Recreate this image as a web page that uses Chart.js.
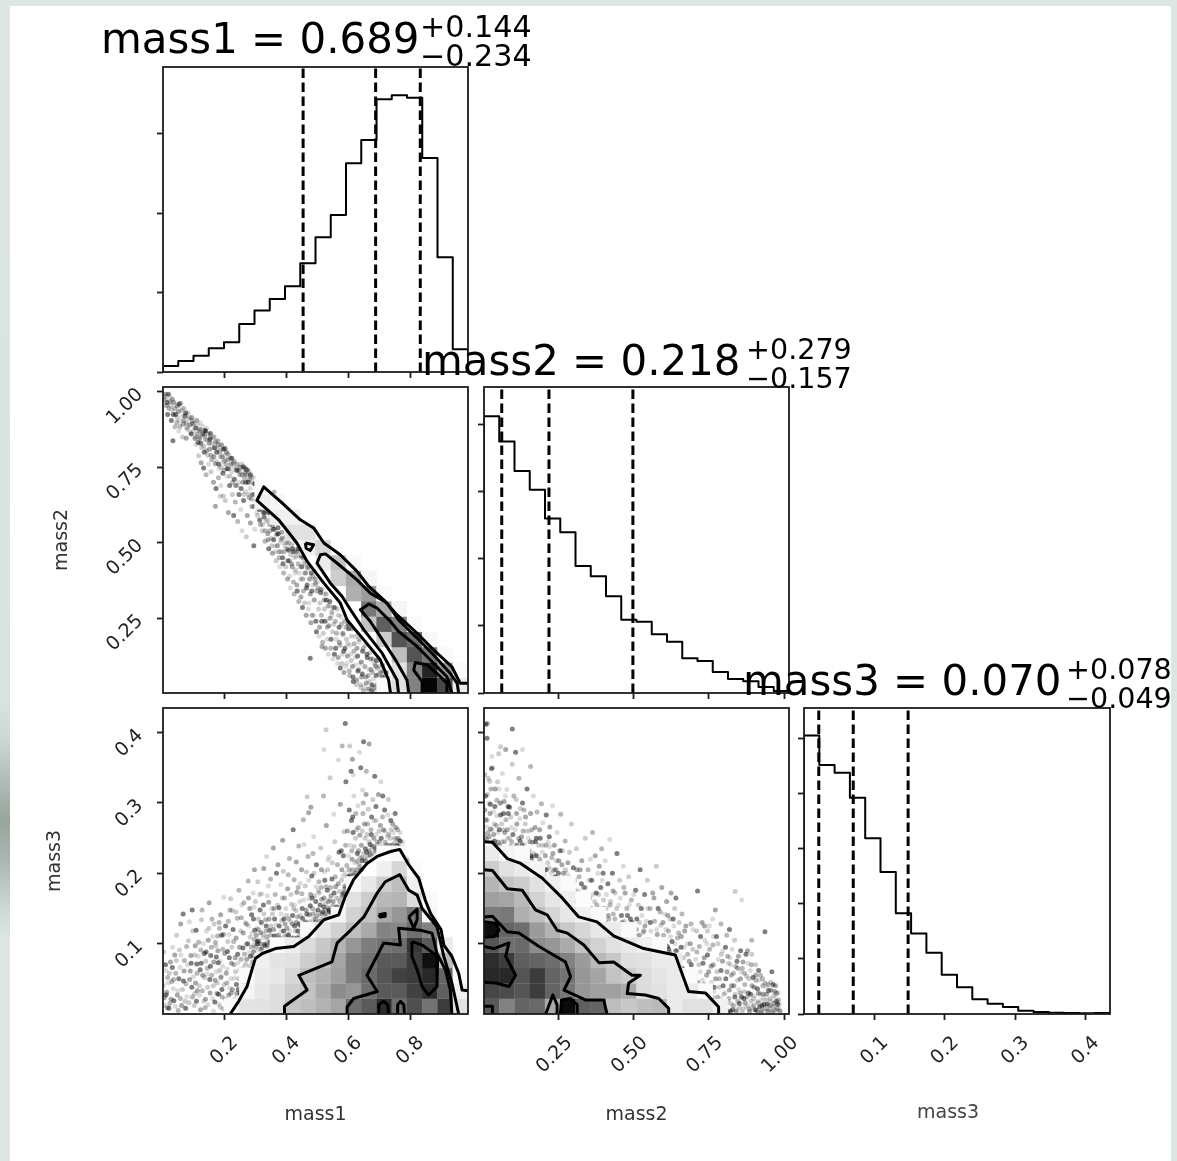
<!DOCTYPE html>
<html><head><meta charset="utf-8">
<script src="https://cdn.jsdelivr.net/npm/chart.js@4"></script>
<style>
html,body{margin:0;padding:0;width:1177px;height:1161px;overflow:hidden;background:#dde6e1;}
#strip{position:absolute;left:0;top:0;width:10px;height:1161px;background:linear-gradient(to bottom,#dde6e1 0,#d8e3de 700px,#cfdad4 735px,#a9b8b0 790px,#95a69d 820px,#a8b7af 860px,#cddad3 910px,#dde6e1 940px,#dde6e1 100%);}
#page{position:absolute;left:10px;top:6px;width:1161px;height:1155px;background:#fff;overflow:hidden;}
#inner{position:absolute;left:-10px;top:-6px;width:1177px;height:1161px;filter:blur(0.6px);}
canvas{position:absolute;left:0;top:0;}
.t{position:absolute;font-family:"DejaVu Sans";color:#000;white-space:pre;line-height:normal;}
.m{font-size:41.9px;}.s{font-size:30.2px;}.s2{font-size:28.6px;}
</style></head><body>
<div id="strip"></div>
<div id="page"><div id="inner">
<canvas id="c1" width="1177" height="1161"></canvas>
<canvas id="c2" width="1177" height="1161"></canvas>
<canvas id="c3" width="1177" height="1161"></canvas>
<canvas id="c4" width="1177" height="1161"></canvas>
<canvas id="c5" width="1177" height="1161"></canvas>
<canvas id="c6" width="1177" height="1161"></canvas>
<span class="t m" style="left:101px;top:14.1px">mass1 = 0.689</span>
<span class="t s" style="left:420px;top:9px">+0.144</span>
<span class="t s" style="left:420px;top:38px">−0.234</span>
<span class="t m" style="left:422px;top:336.1px">mass2 = 0.218</span>
<span class="t s2" style="left:746px;top:331.5px">+0.279</span>
<span class="t s2" style="left:746px;top:360.5px">−0.157</span>
<span class="t m" style="left:743px;top:656.1px">mass3 = 0.070</span>
<span class="t s2" style="left:1066px;top:651.5px">+0.078</span>
<span class="t s2" style="left:1066px;top:680.5px">−0.049</span>
<span class="t" style="left:917px;top:1100px;font-size:19px;color:#444">mass3</span>
</div></div>
<script>
// ---------- axis ranges and ticks ----------
const rangeM1=[0.003,0.987], rangeM2=[0.002,1.016], rangeM3=[0,0.435];
const ticksM1=[0.2,0.4,0.6,0.8], labelsM1=['0.2','0.4','0.6','0.8'];
const ticksM2=[0.25,0.5,0.75,1.0], labelsM2=['0.25','0.50','0.75','1.00'];
const ticksM3=[0.1,0.2,0.3,0.4], labelsM3=['0.1','0.2','0.3','0.4'];
const histTicks1=[0,500,1000,1500], histTicks2=[0,500,1000,1500,2000], histTicks3=[0,500,1000,1500,2000,2500];
const histMax1=1922, histMax2=2283, histMax3=2776;
// ---------- histograms ----------
const hist1=[38,69,103,149,187,303,387,460,540,685,849,989,1315,1462,1718,1744,1729,1349,723,143];
const hist2=[2065,1876,1657,1517,1301,1199,948,871,721,547,532,438,383,259,239,157,104,87,45,15];
const hist3=[2527,2258,2188,1961,1594,1288,915,730,555,355,242,133,94,64,30,18,12,9,6,9];
const quant1=[0.455,0.689,0.833], quant2=[0.061,0.218,0.497], quant3=[0.021,0.070,0.148];
// ---------- 2D density (rows from bottom, 20 columns) ----------
const densA=[
[0,0,0,0,5,27,29,33,57,65,77,90,145,165,210,145,175,140,195,30],
[0,0,0,0,0,10,23,33,50,60,85,115,105,145,165,165,190,210,160,15],
[0,0,0,0,0,5,20,23,40,65,77,95,130,150,170,190,195,215,155,5],
[0,0,0,0,0,0,15,27,30,50,65,90,130,140,165,165,195,240,70,0],
[0,0,0,0,0,0,0,5,17,35,55,75,105,130,140,145,200,165,20,0],
[0,0,0,0,0,0,0,0,0,5,25,45,65,85,125,120,145,125,0,0],
[0,0,0,0,0,0,0,0,0,0,0,10,45,60,85,105,135,10,0,0],
[0,0,0,0,0,0,0,0,0,0,0,0,30,50,70,75,35,5,0,0],
[0,0,0,0,0,0,0,0,0,0,0,0,7,23,50,65,15,0,0,0],
[0,0,0,0,0,0,0,0,0,0,0,0,0,0,15,40,5,0,0,0],
[0,0,0,0,0,0,0,0,0,0,0,0,0,0,3,5,0,0,0,0]];
const densB=[
[165,125,155,150,85,245,160,155,65,55,65,70,20,30,30,15,0,0,0,0],
[185,180,170,195,155,135,105,95,95,85,35,30,20,20,5,0,0,0,0,0],
[215,215,170,195,155,140,105,90,60,50,35,25,20,5,0,0,0,0,0,0],
[210,195,160,155,145,125,100,70,55,33,30,20,20,0,0,0,0,0,0,0],
[170,145,150,115,105,85,60,45,30,23,15,5,0,0,0,0,0,0,0,0],
[240,155,145,100,75,55,40,23,20,5,0,0,0,0,0,0,0,0,0,0],
[130,135,80,65,40,23,15,5,0,0,0,0,0,0,0,0,0,0,0,0],
[95,90,70,45,25,17,3,0,0,0,0,0,0,0,0,0,0,0,0,0],
[75,60,50,30,15,5,0,0,0,0,0,0,0,0,0,0,0,0,0,0],
[50,30,20,10,0,0,0,0,0,0,0,0,0,0,0,0,0,0,0,0],
[20,10,5,0,0,0,0,0,0,0,0,0,0,0,0,0,0,0,0,0]];
const densC=[
[0,0,0,0,0,0,0,0,0,0,0,0,0,0,5,30,125,250,185,20],
[0,0,0,0,0,0,0,0,0,0,0,0,0,0,0,30,125,220,105,5],
[0,0,0,0,0,0,0,0,0,0,0,0,0,0,0,65,170,135,5,0],
[0,0,0,0,0,0,0,0,0,0,0,0,0,0,50,170,145,8,0,0],
[0,0,0,0,0,0,0,0,0,0,0,0,0,60,160,125,5,0,0,0],
[0,0,0,0,0,0,0,0,0,0,0,0,0,135,85,10,0,0,0,0],
[0,0,0,0,0,0,0,0,0,0,0,0,80,100,5,0,0,0,0,0],
[0,0,0,0,0,0,0,0,0,0,0,50,85,10,0,0,0,0,0,0],
[0,0,0,0,0,0,0,0,0,0,20,60,5,0,0,0,0,0,0,0],
[0,0,0,0,0,0,0,0,0,15,40,0,0,0,0,0,0,0,0,0],
[0,0,0,0,0,0,0,0,30,30,0,0,0,0,0,0,0,0,0,0],
[0,0,0,0,0,0,0,15,15,0,0,0,0,0,0,0,0,0,0,0],
[0,0,0,0,0,0,15,10,0,0,0,0,0,0,0,0,0,0,0,0],
[0,0,0,0,0,0,3,0,0,0,0,0,0,0,0,0,0,0,0,0]];
// ---------- contours, flat x,y lists in thousandths ----------
const contA=[
[220,0,247,18,274,39,290,63,301,79,323,86,366,93,425,96,473,110,522,134,570,141,591,167,618,191,661,214,694,224,737,231,767,234,796,212,828,193,849,162,866,143,900,120,909,98,935,82,957,58,968,34,989,33],
[395,0,395,11,468,34,441,55,548,74,565,101,608,119,651,138,694,172,720,188,767,198,796,176,823,169,839,150,887,124,909,82,935,44,957,0],
[597,0,597,10,618,22,694,32,661,55,715,101,769,98,763,122,833,119,871,115,887,86,914,63,930,34,935,0],
[806,103,839,98,889,82,887,39,860,27,839,39,823,63,806,82,806,103],
[796,138,823,149,823,134,812,122,796,138],
[699,141,720,143,720,139,704,138,699,141],
[699,0,699,13,715,18,728,13,731,0],
[760,0,760,13,769,18,780,13,782,0]];
const contB=[
[2,245,30,244,79,221,124,214,196,193,262,165,317,138,378,131,433,111,533,93,638,84,682,32,738,30,782,10,782,0],
[2,205,30,204,79,178,129,176,173,148,212,141,245,119,279,115,334,98,384,73,433,74,494,55,522,55,483,44,478,29,538,27,583,22,616,8,616,0],
[2,138,30,139,79,117,118,115,185,96,273,74,290,53,268,34,339,20,400,20,411,0],
[2,96,35,93,85,101,74,82,107,55,85,39,41,44,2,45],
[2,131,41,129,52,119,35,110,2,109],
[2,11,30,11,30,0],
[207,0,231,27,245,13,245,0],
[256,0,260,20,290,22,312,13,312,0]];
const contC=[
[737,1,731,45,704,112,651,178,597,244,575,300,522,366,468,438,435,499,376,576,306,640,328,685,387,632,446,576,489,549,522,499,575,460,629,405,667,355,715,311,753,266,823,200,876,145,935,89,962,34,989,34],
[763,1,758,45,710,134,651,211,608,278,581,322,543,366,500,432,511,460,527,463,565,432,629,377,672,333,726,300,763,244,823,184,876,128,930,67,952,34,957,1],
[796,1,790,45,753,112,704,189,672,239,640,278,667,297,694,283,737,239,763,206,823,156,887,89,919,56,935,1],
[839,1,839,40,812,78,817,103,855,95,898,56,919,34,919,1],
[462,499,489,493,478,474,465,482,462,499]];
// ---------- samples, flat x,y lists in thousandths ----------
const pointsA=[8,12,15,31,22,8,31,46,12,62,5,88,27,74,38,19,44,58,51,33,56,91,63,12,69,47,72,76,80,25,85,104,91,61,96,38,18,52,34,95,47,112,60,128,68,142,79,96,88,131,99,118,41,84,13,27,25,15,58,66,74,18,93,83,97,148,52,5,36,36,
104,12,108,44,112,71,118,102,121,27,127,134,131,55,136,86,139,9,143,118,147,38,152,158,156,68,159,95,163,22,168,128,171,48,175,81,179,111,183,14,186,62,189,141,193,35,196,92,199,166,106,84,114,33,123,63,129,148,134,18,141,75,149,105,154,49,161,135,166,4,173,97,177,29,181,73,185,122,191,54,197,7,198,113,110,119,125,91,145,57,
204,21,207,58,211,89,214,132,218,37,221,164,224,72,228,12,231,103,234,51,238,145,241,29,244,85,248,176,251,63,254,118,258,42,261,94,264,158,267,31,269,71,272,128,275,52,278,189,281,87,284,109,287,61,289,141,291,74,294,172,296,98,298,205,299,119,209,44,216,113,226,147,236,80,246,35,256,137,263,66,271,99,279,165,286,47,293,83,297,152,213,7,223,30,233,9,
303,96,306,122,309,188,312,104,316,148,319,92,322,171,325,113,328,207,331,99,334,134,337,224,341,105,344,159,347,119,350,192,353,101,356,142,359,236,362,111,365,170,368,127,371,99,374,212,377,151,380,108,383,184,386,133,389,247,392,118,395,165,398,104,311,135,318,116,327,155,335,118,343,182,352,125,361,150,369,200,376,112,384,142,391,203,397,128,307,103,339,98,358,103,
402,140,405,178,408,112,411,221,414,104,417,156,420,128,423,262,426,191,429,106,432,147,435,173,438,118,441,239,444,160,447,112,450,205,453,136,456,276,459,122,462,182,465,148,468,121,471,224,474,164,477,131,480,294,483,196,486,142,489,252,492,168,495,135,498,212,407,198,415,131,424,150,433,216,442,128,451,171,458,241,466,202,475,141,484,165,491,127,497,181,404,113,419,108,428,125,437,138,446,186,455,117,463,131,478,154,487,228,494,146,468,309,473,286,
503,148,506,188,509,139,512,236,515,163,518,145,521,310,524,202,527,157,530,268,533,176,536,151,539,223,542,336,545,168,548,192,551,154,554,284,557,245,560,181,563,152,566,212,569,361,572,174,575,298,578,232,581,166,584,196,587,259,590,182,593,330,596,211,599,189,507,172,514,205,522,152,529,181,535,219,541,162,547,144,555,172,561,148,567,165,574,153,580,205,586,172,592,240,597,176,511,143,526,142,538,148,552,143,
602,225,605,381,608,198,611,275,614,205,617,340,620,238,623,200,591,413,629,217,632,296,635,212,638,254,641,350,644,222,647,318,650,228,653,270,656,235,659,345,662,224,665,291,668,384,671,241,674,262,677,228,680,305,683,250,686,338,689,232,692,275,695,240,698,312,604,290,612,232,619,310,627,262,634,232,642,205,649,300,654,218,661,255,669,232,676,280,684,238,691,255,697,236,606,195,616,258,625,285,637,372,646,260,658,312,650,387,581,381,522,376,529,404,614,362,610,345,
702,245,706,330,710,238,714,262,718,290,722,234,726,252,730,305,734,240,738,275,742,236,746,258,750,243,754,265,758,240,762,250,766,238,770,246,775,228,779,236,783,216,788,222,793,218,704,268,712,310,720,244,728,283,736,250,744,270,752,285,760,262,768,258];
const pointsA2=[3,41,7,23,11,70,17,9,19,44,24,58,29,21,33,66,37,49,43,11,46,76,49,27,54,50,59,22,61,84,66,35,71,61,76,8,77,43,82,70,87,16,89,49,94,72,98,24,101,53,105,29,107,97,111,18,113,58,117,82,120,40,124,6,126,72,130,33,133,100,137,52,140,21,142,88,146,65,148,13,151,122,155,30,157,83,160,55,162,110,165,40,167,74,170,17,172,102,174,60,178,44,180,90,182,28,184,130,187,75,188,10,190,52,192,112,194,24,195,68,200,42,202,86,205,125,208,12,210,64,212,103,215,27,217,80,219,148,222,50,225,95,227,35,229,120,232,70,235,22,237,60,239,108,240,42,243,136,245,73,247,50,250,95,252,30,255,78,257,155,259,55,262,115,265,44,266,85,268,130,270,60,273,78,276,100,277,45,280,125,282,68,283,150,285,82,288,95,290,115,292,60,295,88,295,135,298,106,300,90,301,160,304,112,308,100,310,120,313,92,315,170,317,100,320,130,323,94,326,108,329,142,332,97,336,125,338,110,340,168,342,96,345,135,348,102,351,112,354,150,357,96,360,120,363,135,367,98,370,112,373,155,375,101,378,125,381,100,385,118,388,165,390,102,393,135,396,110,399,150,400,102,403,122,406,100,409,135,412,118,416,170,418,102,421,140,425,108,427,155,430,118,433,130,436,108,439,180,443,112,445,140,448,125,452,150,454,110,457,162,460,130,464,115,467,142,470,120,473,190,476,128,479,170,482,122,485,150,488,135,490,200,493,130,496,160,499,140,501,128,504,175,508,132,510,155,513,180,516,142,519,135,523,165,525,190,528,148,531,140,534,205,537,160,540,145,543,180,546,150,549,215,552,160,556,148,559,195,562,165,565,145,568,185,571,230,573,160,576,148,579,190,582,170,585,225,588,178,591,200,594,180,598,260,600,195,603,205,607,240,609,188,613,220,615,280,618,198,621,215,624,250,628,205,630,228,633,265,636,222,639,210,643,240,645,218,648,285,652,222,655,250,657,218,660,230,663,270,666,225,668,245,672,226,675,255,678,238,681,228,685,275,688,235,690,295,694,245,696,228,700,260,703,232,707,250,711,280,715,235,719,260,723,240,727,232,731,255,735,236,739,262,743,240,747,236,751,250,755,236,759,248,763,238,767,246,772,232,776,244,781,226,785,215,790,205,795,210,800,200];
const pointsB=[6,251,9,276,12,392,15,258,18,300,21,331,24,263,27,349,30,244,33,288,36,270,39,320,42,236,45,304,48,258,51,370,54,240,57,283,60,229,63,342,66,262,69,302,72,232,75,276,78,319,81,250,84,226,87,294,90,238,93,265,96,355,99,222,8,412,4,340,28,366,14,312,22,285,37,246,43,268,52,320,62,245,71,258,83,285,94,245,11,266,58,300,13,413,96,405,157,352,130,376,57,380,74,376,107,372,
103,218,106,262,109,305,112,240,115,220,118,335,121,278,124,225,127,252,130,300,133,218,136,242,139,270,142,210,145,320,148,232,151,260,154,206,157,285,160,222,163,244,166,310,169,205,172,265,175,225,178,287,181,212,184,240,187,262,190,204,193,299,196,230,199,200,110,285,122,246,135,290,144,260,153,232,164,215,176,250,188,220,198,272,
203,195,206,225,209,283,212,186,215,245,218,208,221,266,224,182,227,222,230,296,233,178,236,240,239,195,242,205,245,258,248,172,251,218,254,188,257,284,260,170,263,232,266,200,269,158,272,246,275,180,278,163,281,215,284,152,287,192,290,170,293,270,296,146,299,208,210,205,220,238,232,204,244,178,255,232,265,175,277,200,286,230,294,165,298,152,
303,143,306,176,309,235,312,150,315,141,318,195,321,138,324,162,327,218,330,142,333,180,336,136,339,250,342,155,345,138,348,205,351,135,354,165,357,140,360,190,363,258,366,148,369,136,372,225,375,172,378,138,381,200,384,150,387,132,390,180,393,235,396,140,399,162,311,205,326,185,341,142,356,220,370,160,385,210,398,200,
402,128,405,218,408,150,411,122,414,185,417,135,420,248,423,160,426,118,429,200,432,142,435,115,438,172,441,125,444,228,447,112,450,155,453,190,456,120,459,140,462,108,465,210,468,132,471,172,474,106,477,150,480,118,483,195,486,104,489,135,492,162,495,102,498,125,
503,100,506,176,509,120,512,98,515,155,518,112,521,205,524,96,527,140,530,94,533,118,536,170,539,92,542,132,545,190,548,106,551,91,554,150,557,118,560,90,563,172,566,101,569,132,572,88,575,210,578,113,581,150,584,87,587,100,590,126,593,180,596,86,599,112,
603,142,606,85,609,160,612,96,615,118,618,84,621,135,624,172,627,103,630,84,633,125,636,150,639,90,642,78,645,108,648,66,651,130,654,55,657,95,660,142,663,46,666,80,669,118,672,40,675,62,678,100,681,35,684,75,687,52,690,128,693,36,696,92,699,60,640,165,
703,34,706,78,709,118,712,45,715,32,718,96,721,60,724,34,727,130,730,72,733,42,736,105,739,30,742,55,745,84,748,26,751,125,754,40,757,68,760,20,763,98,766,32,769,14,772,50,775,110,778,24,781,78,784,38,787,6,790,62,793,15,796,90,799,28,
803,8,806,50,809,112,812,18,815,72,818,34,821,4,824,55,827,92,830,12,833,40,836,24,839,68,842,6,845,48,848,82,851,15,854,30,857,60,860,3,863,74,866,22,869,42,872,10,875,54,878,90,881,30,884,7,887,62,890,18,893,40,896,52,899,12,902,26,905,70,908,5,911,36,914,16,917,48,920,28,923,3,926,12,929,40,932,22,935,8,941,28,944,14,947,42,950,6,953,22,956,34,959,60,962,11,965,26,968,5,971,40,974,18,977,8,980,30,983,14,986,4,936,117,892,105,859,162,837,174,771,148,712,175,752,92,765,110,780,100,795,75,805,95,812,82,822,70,835,105,845,65,855,90,868,58,880,72,892,85,905,55,915,62,928,50,942,38,955,45,968,32,818,120,790,128,762,135,745,118,735,125];
const pointsB2=[3,255,5,290,7,310,10,248,13,275,16,335,19,252,23,298,25,320,29,262,31,350,34,255,38,295,40,240,44,282,47,330,49,244,53,262,55,300,59,236,61,270,64,230,67,285,70,245,73,310,76,228,79,262,82,295,85,232,88,250,91,280,95,225,98,255,101,310,105,228,108,240,111,270,114,218,117,250,120,226,123,292,126,215,129,240,132,260,134,210,137,225,140,280,143,235,146,212,149,250,152,205,155,245,158,225,161,262,164,200,167,228,170,212,173,245,177,200,180,225,183,195,186,215,189,250,192,192,195,210,197,240,201,190,205,205,208,240,211,182,214,215,217,190,219,252,222,180,225,200,229,175,231,228,234,185,237,205,240,172,243,218,246,180,249,200,252,168,256,190,258,165,261,212,264,165,267,185,270,170,273,205,276,155,279,175,283,150,285,195,288,165,291,148,295,180,297,143,300,165,304,190,307,143,310,160,313,142,316,175,319,140,322,205,325,145,328,135,332,160,335,142,338,180,343,135,346,160,349,138,352,190,355,135,358,150,361,132,364,170,367,135,371,145,374,128,377,155,380,125,383,170,386,120,389,145,392,118,395,190,397,125,400,150,403,115,406,130,409,170,412,112,415,140,418,110,421,155,424,128,427,108,431,175,434,110,437,135,440,104,443,150,446,105,449,125,452,100,455,165,458,108,461,130,464,100,467,180,470,110,473,98,476,125,479,140,482,100,485,155,488,98,491,120,494,130,497,98,500,170,504,112,507,95,510,135,513,100,516,90,519,130,522,100,525,150,528,90,531,115,534,88,537,125,540,95,543,85,546,150,549,100,552,88,555,130,558,85,561,105,564,88,567,165,570,95,573,85,576,120,579,88,582,105,585,85,588,145,591,92,594,84,597,130,600,85,604,100,607,120,610,85,613,140,616,92,619,88,622,110,625,85,628,80,631,135,634,70,637,100,641,60,643,90,646,50,649,115,652,75,655,40,658,110,661,65,664,36,667,95,670,50,673,125,676,34,679,85,682,60,685,30,688,100,691,70,694,40,697,120,700,32,704,55,707,38,710,88,713,28,716,70,719,34,722,110,725,20,728,48,731,28,734,80,737,16,740,40,743,100,746,12,749,60,752,30,755,8,758,45,761,24,764,70,767,38,770,6,773,20,776,60,779,12,782,4,785,50,788,22,791,85,794,5,797,40,800,14,
804,30,807,8,810,60,813,3,816,22,819,80,822,15,825,40,828,6,831,58,834,12,837,28,840,4,843,75,846,18,849,35,852,9,855,50,858,24,861,65,864,7,867,32,870,16,873,85,876,24,879,12,882,50,885,4,888,28,891,70,894,10,897,22,900,38,903,6,906,48,909,18,912,3,915,30,918,10,921,55,924,20,927,5,930,28,933,14,936,44,939,7,942,20,945,4,948,33,951,12,954,8,957,18,960,3,963,42,966,15,969,25,972,6,975,30,978,14,981,20,984,6];
const pointsC=[8,985,14,955,20,992,26,968,32,940,12,975,38,965,44,925,50,952,56,905,62,938,68,893,74,920,80,880,86,910,92,865,98,895,30,905,42,884,54,870,66,850,78,846,18,925,60,962,72,945,84,930,96,915,35,838,48,898,
104,880,108,850,112,905,116,832,120,870,124,897,128,815,132,860,136,800,140,842,144,880,148,790,152,830,156,862,160,775,164,815,168,850,172,762,176,800,180,838,184,745,188,785,192,825,196,730,199,770,110,825,118,788,126,765,134,748,142,725,150,760,158,735,166,700,174,680,182,715,190,690,198,655,122,845,138,872,154,840,170,828,188,654,172,621,
203,812,206,760,209,720,212,795,215,745,218,690,221,780,224,735,227,660,230,765,233,710,236,635,239,750,242,690,245,740,248,660,251,725,254,610,257,760,260,700,263,640,266,715,269,670,272,742,275,590,278,700,281,650,284,680,287,720,290,620,293,660,296,695,299,545,204,640,214,600,231,590,244,570,258,540,272,520,285,565,296,490,274,742,274,742,280,735,268,748,262,752,
302,660,305,625,308,590,311,680,314,610,317,560,320,630,323,540,326,600,329,585,332,505,335,570,338,600,341,530,344,480,347,560,350,590,353,515,356,465,359,545,362,575,365,490,368,440,371,530,374,550,377,470,380,420,383,510,386,535,389,450,392,400,395,490,398,520,310,700,345,650,362,668,340,640,
402,500,405,380,408,475,411,440,414,350,417,490,420,420,423,470,426,330,429,400,432,455,435,360,438,480,441,305,444,420,447,380,450,455,453,285,456,340,459,400,462,430,465,260,468,360,471,415,474,300,477,380,480,235,483,340,486,390,489,260,492,310,495,365,498,205,410,520,425,500,440,470,455,450,478,117,
503,350,506,190,509,300,512,345,515,240,518,170,521,330,524,280,527,150,530,310,533,220,536,130,539,290,542,250,545,180,548,270,551,115,554,230,557,285,560,150,563,200,566,100,569,260,572,170,575,85,578,230,581,130,584,195,587,70,590,150,593,220,596,100,599,165,516,156,
602,215,605,60,608,130,611,190,614,90,617,40,620,165,623,120,626,30,629,150,632,75,635,180,638,100,641,20,644,55,647,140,650,10,653,90,656,160,659,35,662,120,665,60,668,15,671,135,674,80,677,28,680,115,683,50,686,8,689,92,692,110,695,30,698,65,
703,90,706,20,709,55,712,75,715,10,718,40,721,60,724,25,727,8,730,35];
const pointsC2=[5,975,10,992,16,965,22,945,25,985,28,955,33,975,36,925,40,945,46,955,48,915,52,935,55,960,58,885,64,920,67,945,70,905,76,930,79,895,83,875,88,915,90,890,94,860,97,905,101,870,103,895,106,845,109,880,113,860,115,890,119,850,123,875,125,830,129,860,131,885,135,820,137,855,141,870,143,805,146,840,149,860,153,810,155,845,158,790,161,830,165,850,167,785,169,815,173,835,175,770,178,810,181,825,183,760,186,800,189,815,191,750,194,785,197,810,200,740,202,790,205,775,208,800,210,745,213,775,216,790,219,720,222,760,225,780,228,700,231,750,234,770,237,690,240,740,243,760,246,700,249,735,252,750,255,680,258,725,261,745,264,660,267,730,270,700,273,725,276,740,279,660,282,710,285,725,288,645,291,700,294,715,297,620,300,695,303,640,306,600,309,690,312,620,315,575,318,660,321,610,324,560,327,645,330,600,333,540,336,620,339,575,342,510,345,600,348,540,351,575,354,490,357,555,360,510,363,545,366,470,369,525,372,490,375,530,378,450,381,500,384,470,387,515,390,430,393,470,396,500,399,420,403,480,406,440,409,500,412,390,415,460,418,430,421,480,424,370,427,450,430,410,433,470,436,340,439,430,442,400,445,455,448,320,451,420,454,380,457,435,460,300,463,400,466,350,469,420,472,280,475,380,478,330,481,400,484,260,487,360,490,310,493,380,496,240,499,340,502,370,505,280,508,220,511,335,514,260,517,345,520,200,523,310,526,240,529,330,532,180,535,290,538,225,541,305,544,150,547,260,550,205,553,285,556,130,559,240,562,180,565,280,568,120,571,220,574,160,577,255,580,100,583,200,586,140,589,240,592,90,595,180,598,125,601,230,604,75,607,160,610,110,613,215,616,55,619,140,622,95,625,190,628,45,631,125,634,80,637,170,640,30,643,105,646,65,649,150,652,25,655,90,658,55,661,130,664,15,667,80,670,40,673,115,676,10,679,70,682,30,685,100,688,20,691,60,694,85,697,15,700,45,705,70,708,30,711,95,714,20,717,50,720,10,723,70,726,35,729,20,732,50,735,8];
// ---------- helpers ----------
const FONT='"DejaVu Sans"';
const pairs=f=>{const o=[];for(let i=0;i<f.length;i+=2)o.push({x:f[i]/1000,y:f[i+1]/1000});return o;};
const lineSet=(data,w)=>({data,showLine:true,pointRadius:0,borderColor:'#000',borderWidth:w,borderJoinStyle:'round',fill:false,tension:0});
const frame={id:'frame',afterDraw(c){const a=c.chartArea,x=c.ctx;x.save();x.lineWidth=1.8;x.strokeStyle='#1c1c1c';x.strokeRect(a.left,a.top,a.right-a.left,a.bottom-a.top);x.restore();}};
function histData(counts,r){const o=[{x:r[0],y:0}],w=(r[1]-r[0])/counts.length;counts.forEach((v,i)=>{o.push({x:r[0]+i*w,y:v},{x:r[0]+(i+1)*w,y:v});});o.push({x:r[1],y:0});return o;}
function axis(pos,r,ticks,labels,size,title){
  return {type:'linear',position:pos,min:r[0],max:r[1],
    afterBuildTicks(s){s.ticks=ticks.map(v=>({value:v}));},
    afterFit(s){if(pos==='bottom')s.height=size;else s.width=size;},
    border:{display:false},
    grid:{display:true,drawOnChartArea:false,drawTicks:true,tickLength:6,tickWidth:1.8,tickColor:'#1c1c1c'},
    ticks:{display:!!labels,autoSkip:false,minRotation:45,maxRotation:45,color:'#222',font:{family:FONT,size:19},padding:pos==='bottom'?12:17,labelOffset:pos==='bottom'?11:0,
      callback:(v,i)=>labels?labels[i]:''},
    title:{display:!!title,text:title||'',color:'#333',font:{family:FONT,size:19},padding:0}};
}
function make(id,box,xa,ya,datasets){
  const xs=xa.size,ys=ya.size;
  new Chart(document.getElementById(id),{type:'scatter',plugins:[frame],
    data:{datasets},
    options:{responsive:false,animation:false,events:[],
      layout:{padding:{left:box.l-ys,right:1177-box.r,top:box.t,bottom:1161-box.b-xs}},
      plugins:{legend:{display:false},tooltip:{enabled:false},title:{display:false}},
      scales:{x:axis('bottom',xa.r,xa.t,xa.lab,xs,xa.title),y:axis('left',ya.r,ya.t,ya.lab,ys,ya.title)}}});
}
function cells(dens,rx,ry){
  const o=[],col=[],n=20,wx=(rx[1]-rx[0])/n,wy=(ry[1]-ry[0])/n;
  dens.forEach((row,j)=>row.forEach((d,i)=>{if(d>0){o.push({x:rx[0]+(i+.5)*wx,y:ry[0]+(j+.5)*wy});const g=255-d;col.push(`rgb(${g},${g},${g})`);}}));
  return {data:o,pointStyle:'rect',pointRadius:11,pointBorderWidth:0,borderWidth:0,pointBackgroundColor:col,order:5,clip:0};
}
const alphas=['rgba(0,0,0,0.2)','rgba(0,0,0,0.34)','rgba(0,0,0,0.5)','rgba(0,0,0,0.28)','rgba(0,0,0,0.14)'];
const ptSet=(f)=>({data:pairs(f),pointStyle:'circle',pointRadius:2.5,pointBorderWidth:0,pointBackgroundColor:c=>alphas[c.dataIndex%5],order:9});
const contSets=list=>list.map(f=>({...lineSet(pairs(f),3),order:1}));
const histSets=(counts,r,q,mx)=>[lineSet(histData(counts,r),2)].concat(q.map(v=>({...lineSet([{x:v,y:0},{x:v,y:mx}],3),borderDash:[9.5,4.5],borderCapStyle:'butt'})));

const col=[{l:163,r:468},{l:484,r:789},{l:804,r:1110}], row=[{t:67,b:372},{t:387,b:693},{t:708,b:1014}];
const box=(c,r)=>({l:col[c].l,r:col[c].r,t:row[r].t,b:row[r].b});
const none={size:6};
// mass1 histogram
make('c1',box(0,0),{...none,r:rangeM1,t:ticksM1},{...none,r:[0,histMax1],t:histTicks1},histSets(hist1,rangeM1,quant1,histMax1));
// mass2 vs mass1
make('c2',box(0,1),{...none,r:rangeM1,t:ticksM1},{size:112,r:rangeM2,t:ticksM2,lab:labelsM2,title:'mass2'},
  [...contSets(contC),cells(densC,rangeM1,rangeM2),ptSet(pointsC),ptSet(pointsC2)]);
// mass2 histogram
make('c3',box(1,1),{...none,r:rangeM2,t:ticksM2},{...none,r:[0,histMax2],t:histTicks2},histSets(hist2,rangeM2,quant2,histMax2));
// mass3 vs mass1
make('c4',box(0,2),{size:112,r:rangeM1,t:ticksM1,lab:labelsM1,title:'mass1'},{size:119,r:rangeM3,t:ticksM3,lab:labelsM3,title:'mass3'},
  [...contSets(contA),cells(densA,rangeM1,rangeM3),ptSet(pointsA),ptSet(pointsA2)]);
// mass3 vs mass2
make('c5',box(1,2),{size:112,r:rangeM2,t:ticksM2,lab:labelsM2,title:'mass2'},{...none,r:rangeM3,t:ticksM3},
  [...contSets(contB),cells(densB,rangeM2,rangeM3),ptSet(pointsB),ptSet(pointsB2)]);
// mass3 histogram (its axis label sits a little left of the panel centre, so it is a page label above)
make('c6',box(2,2),{size:112,r:rangeM3,t:ticksM3,lab:labelsM3},{...none,r:[0,histMax3],t:histTicks3},histSets(hist3,rangeM3,quant3,histMax3));
</script>
</body></html>
